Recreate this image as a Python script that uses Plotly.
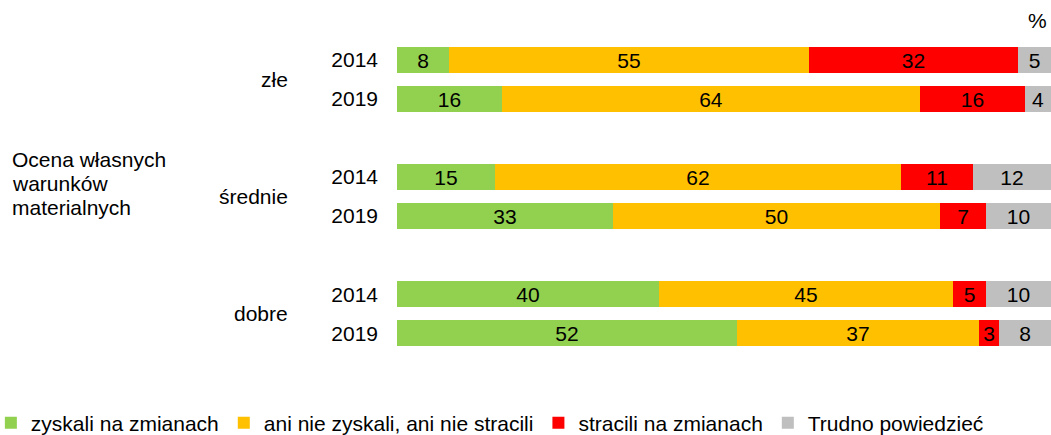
import plotly.graph_objects as go

groups = ["złe", "średnie", "dobre"]
years = ["2014", "2019", "2014", "2019", "2014", "2019"]
positions = [0, 1, 3, 4, 6, 7]
series_names = ["zyskali na zmianach", "ani nie zyskali, ani nie stracili", "stracili na zmianach", "Trudno powiedzieć"]
gained = [8, 16, 15, 33, 40, 52]
neither = [55, 64, 62, 50, 45, 37]
lost = [32, 16, 11, 7, 5, 3]
hard_to_say = [5, 4, 12, 10, 10, 8]
axis_title_lines = ["Ocena własnych", "warunków", "materialnych"]
colors = ["#92D050", "#FFC000", "#FF0000", "#BFBFBF"]

FONT = "Liberation Sans, Arial, sans-serif"
FS = 21
fig = go.Figure()
for name, vals, col in zip(series_names, [gained, neither, lost, hard_to_say], colors):
    fig.add_trace(go.Bar(
        y=positions, x=vals, name=name, orientation="h",
        marker=dict(color=col, line=dict(width=0)),
        width=0.667,
        text=[str(v) for v in vals], textposition="inside", textangle=0,
        insidetextanchor="middle", constraintext="none",
        textfont=dict(family=FONT, size=FS, color="black"),
        hoverinfo="skip",
    ))

fig.update_layout(
    barmode="stack",
    width=1051, height=435,
    margin=dict(l=397, r=0, t=40, b=82, autoexpand=False),
    paper_bgcolor="white", plot_bgcolor="white",
    font=dict(family=FONT, size=FS, color="black"),
    bargap=0,
    xaxis=dict(range=[0, 100], visible=False, fixedrange=True, automargin=False),
    yaxis=dict(range=[7.5, -0.5], tickvals=positions, ticktext=years,
               showgrid=False, zeroline=False, showline=False, ticks="",
               ticklabelstandoff=18, tickfont=dict(size=FS), automargin=False),
    legend=dict(orientation="h", x=-0.621, y=-0.224, xanchor="left", yanchor="middle",
                font=dict(size=FS), itemwidth=30, traceorder="normal"),
    showlegend=True,
)

group_centers = [0.5, 3.5, 6.5]
for g, c in zip(groups, group_centers):
    fig.add_annotation(text=g, xref="paper", yref="y", x=-0.1636, y=c,
                       xanchor="right", yanchor="middle", showarrow=False,
                       font=dict(size=FS))

for line, yy in zip(axis_title_lines, [2.555, 3.168, 3.781]):
    fig.add_annotation(text=line, xref="paper", yref="y", x=-0.5917, y=yy,
                       xanchor="left", yanchor="middle", align="left",
                       showarrow=False, font=dict(size=FS))

fig.add_annotation(text="%", xref="paper", yref="paper", x=1.0, y=1.0,
                   xanchor="right", yanchor="bottom", xshift=-2, yshift=6, showarrow=False,
                   font=dict(size=FS))

# remove the default 8px page margin so the figure fills the window exactly
fig.write_html("out.html", config={"displayModeBar": False},
               post_script="document.body.style.margin='0';")
